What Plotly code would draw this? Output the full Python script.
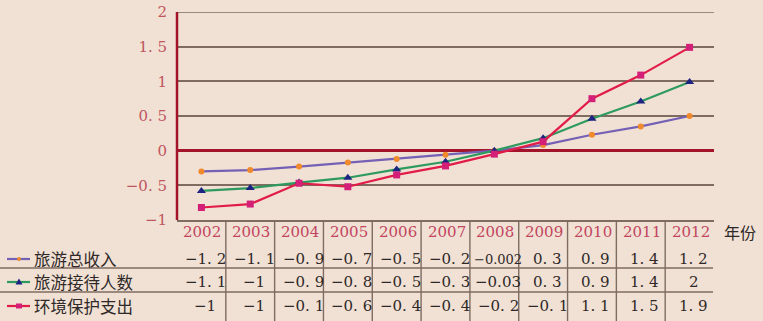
import plotly.graph_objects as go

# ---------------- data ----------------
years = ["2002", "2003", "2004", "2005", "2006", "2007", "2008", "2009", "2010", "2011", "2012"]
series_names = ["旅游总收入", "旅游接待人数", "环境保护支出"]
income = [-0.30, -0.28, -0.23, -0.17, -0.12, -0.06, 0.00, 0.08, 0.23, 0.35, 0.50]
visitors = [-0.58, -0.54, -0.46, -0.39, -0.27, -0.16, 0.00, 0.18, 0.46, 0.71, 0.99]
env_spend = [-0.82, -0.77, -0.47, -0.52, -0.35, -0.22, -0.05, 0.13, 0.75, 1.09, 1.49]

table_income = ["−1. 2", "−1. 1", "−0. 9", "−0. 7", "−0. 5", "−0. 2", "−0.002", "0. 3", "0. 9", "1. 4", "1. 2"]
table_visitors = ["−1. 1", "−1", "−0. 9", "−0. 8", "−0. 5", "−0. 3", "−0.03", "0. 3", "0. 9", "1. 4", "2"]
table_env = ["−1", "−1", "−0. 1", "−0. 6", "−0. 4", "−0. 4", "−0. 2", "−0. 1", "1. 1", "1. 5", "1. 9"]

ytick_vals = [-1, -0.5, 0, 0.5, 1, 1.5, 2]
ytick_text = ["−1", "−0. 5", "0", "0. 5", "1", "1. 5", "2"]
x_axis_title = "年份"

# ---------------- style ----------------
W, H = 763, 321
BG = "#f1e1d4"
GRID = "#7f6b60"
AXIS_RED = "#a3142a"
TICK_RED = "#bf5560"
YEAR_RED = "#c2455f"
TXT = "#2e2828"
NUM_FONT = "DejaVu Serif, Liberation Serif, serif"
CJK_FONT = "Noto Sans CJK SC, Noto Sans CJK JP, sans-serif"

line_cols = ["#7460b4", "#2e9a5e", "#e21c48"]
mark_cols = ["#f08a2c", "#1c2380", "#d41f78"]
mark_syms = ["circle", "triangle-up", "square"]
mark_sizes = [6, 8, 7]


def px(x):
    return x / W


def py(y):
    return 1 - y / H


PLOT_L, PLOT_R, PLOT_T, PLOT_B = 177, 714, 12, 220

fig = go.Figure()
for name, vals, lc, mc, ms, sz in zip(series_names, [income, visitors, env_spend],
                                      line_cols, mark_cols, mark_syms, mark_sizes):
    fig.add_trace(go.Scatter(
        x=years, y=vals, name=name, mode="lines+markers",
        line=dict(color=lc, width=2.2),
        marker=dict(symbol=ms, size=sz, color=mc, line=dict(width=0)),
        cliponaxis=False, showlegend=False,
    ))

shapes = []
annotations = []

# top gridline (at the top of the range)
shapes.append(dict(type="line", xref="paper", yref="y", x0=px(PLOT_L), x1=px(PLOT_R),
                   y0=ytick_vals[-1], y1=ytick_vals[-1], line=dict(color=GRID, width=1.6)))
# left axis line
shapes.append(dict(type="line", xref="paper", yref="paper", x0=px(PLOT_L), x1=px(PLOT_L),
                   y0=py(PLOT_B), y1=py(PLOT_T), line=dict(color=AXIS_RED, width=2.5)))

# table horizontal lines
for yy in [268, 292]:
    shapes.append(dict(type="line", xref="paper", yref="paper", x0=0, x1=px(PLOT_R - 1),
                       y0=py(yy), y1=py(yy), line=dict(color=GRID, width=1.6)))
# table vertical separators between years
for k in range(len(years) - 1):
    shapes.append(dict(type="line", xref="x", yref="paper", x0=k + 0.5, x1=k + 0.5,
                       y0=py(PLOT_B), y1=0, line=dict(color=GRID, width=1.4)))

# year labels
for k, yr in enumerate(years):
    annotations.append(dict(x=k, xref="x", y=py(232), yref="paper", text=yr, showarrow=False,
                            xanchor="center", yanchor="middle", xshift=1,
                            font=dict(family=NUM_FONT, size=15, color=YEAR_RED)))

annotations.append(dict(x=px(740), xref="paper", y=py(232), yref="paper", text=x_axis_title,
                        showarrow=False, xanchor="center", yanchor="middle",
                        font=dict(family=CJK_FONT, size=16, color=TXT)))

row_y = [259, 282, 306]
for rowvals, ry in zip([table_income, table_visitors, table_env], row_y):
    for k, t in enumerate(rowvals):
        small = len(t) > 5
        annotations.append(dict(x=k, xref="x", y=py(ry), yref="paper", text=t, showarrow=False,
                                xanchor="center", yanchor="middle", xshift=4,
                                font=dict(family=NUM_FONT, size=13 if small else 15, color=TXT)))

# legend-like row headers
for name, ry, lc, mc, ms in zip(series_names, row_y, line_cols, mark_cols, mark_syms):
    shapes.append(dict(type="line", xref="paper", yref="paper", x0=px(7), x1=px(30),
                       y0=py(ry), y1=py(ry), line=dict(color=lc, width=2.2)))
    cx, cy = 19, ry
    if ms == "circle":
        shapes.append(dict(type="circle", xref="paper", yref="paper", x0=px(cx - 2), x1=px(cx + 2),
                           y0=py(cy + 2), y1=py(cy - 2), fillcolor=mc, line=dict(width=0)))
    elif ms == "square":
        shapes.append(dict(type="rect", xref="paper", yref="paper", x0=px(cx - 3), x1=px(cx + 3),
                           y0=py(cy + 2.5), y1=py(cy - 2.5), fillcolor=mc, line=dict(width=0)))
    else:
        path = "M {} {} L {} {} L {} {} Z".format(px(cx - 3.5), py(cy + 2.5), px(cx + 3.5), py(cy + 2.5),
                                                   px(cx), py(cy - 3.5))
        shapes.append(dict(type="path", xref="paper", yref="paper", path=path, fillcolor=mc,
                           line=dict(width=0)))
    annotations.append(dict(x=px(32), xref="paper", y=py(ry), yref="paper", text=name, showarrow=False,
                            xanchor="left", yanchor="middle",
                            font=dict(family=CJK_FONT, size=16.5, color=TXT)))

fig.update_layout(
    width=W, height=H,
    margin=dict(l=0, r=0, t=0, b=0, pad=0),
    paper_bgcolor=BG, plot_bgcolor=BG,
    shapes=shapes, annotations=annotations,
    xaxis=dict(domain=[px(PLOT_L), px(PLOT_R)], type="category", range=[-0.5, 10.5],
               showticklabels=False, showgrid=False, zeroline=False, showline=True,
               linecolor=GRID, linewidth=1.6, ticks="", automargin=False),
    yaxis=dict(domain=[py(PLOT_B), py(PLOT_T)], range=[-1, 2], tickvals=ytick_vals,
               ticktext=ytick_text, showgrid=True, gridcolor=GRID, gridwidth=1.6,
               zeroline=True, zerolinecolor=AXIS_RED, zerolinewidth=2.5,
               showline=False, ticks="", ticklabelstandoff=9, automargin=False,
               tickfont=dict(family=NUM_FONT, size=15, color=TICK_RED)),
)

fig.write_html("out.html", config={"displayModeBar": False},
               post_script="document.body.style.margin='0';")
